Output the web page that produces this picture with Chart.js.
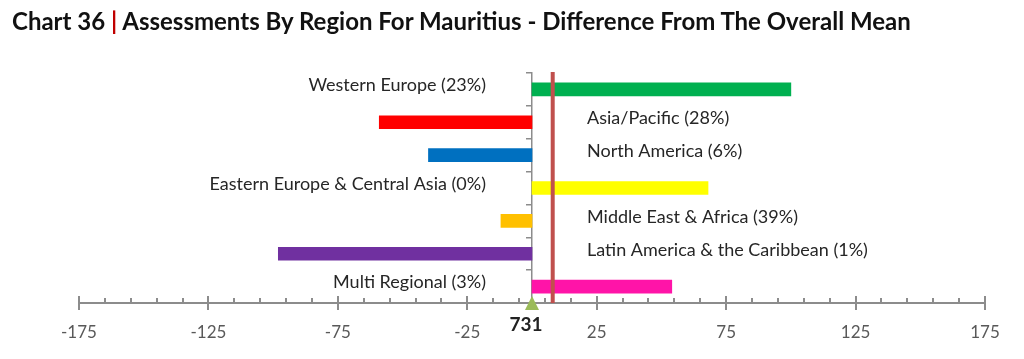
<!DOCTYPE html>
<html>
<head>
<meta charset="utf-8">
<script src="https://cdn.jsdelivr.net/npm/chart.js@4.4.0/dist/chart.umd.min.js"></script>
<style>
html, body { margin: 0; padding: 0; background: #fff; }
#wrap { position: relative; width: 1024px; height: 359px; }
#myChart { position: absolute; left: 0; top: 0; }
#title { position: absolute; left: 12px; top: 6px; font: bold 24px Lato, sans-serif; color: #111; white-space: nowrap; }
#title .sep { color: #c00000; }
</style>
</head>
<body>
<div id="wrap">
  <canvas id="myChart" width="1024" height="359"></canvas>
  <div id="title">Chart 36 <span class="sep">|</span> Assessments By Region For Mauritius - Difference From The Overall Mean</div>
</div>
<script>
// data
const regions = ['Western Europe', 'Asia/Pacific', 'North America', 'Eastern Europe & Central Asia',
                 'Middle East & Africa', 'Latin America & the Caribbean', 'Multi Regional'];
const shares = ['23%', '28%', '6%', '0%', '39%', '1%', '3%'];
const diffs = [100, -59, -40, 68, -12, -98, 54];
const barColors = ['#00b050', '#ff0000', '#0070c0', '#ffff00', '#ffc000', '#7030a0', '#ff14a8'];
const tickLabels = [-175, -125, -75, -25, 25, 75, 125, 175];
const meanLine = 8;      // red line
const overallMean = 731; // value at zero

const axisGrey = '#8c8c8c';

// axis, mean line, marker and region labels
const overlay = {
  id: 'overlay',
  afterDatasetsDraw(chart) {
    const ctx = chart.ctx;
    const area = chart.chartArea;
    const x = chart.scales.x;
    const y0 = area.bottom;
    ctx.save();

    ctx.strokeStyle = axisGrey;
    ctx.lineWidth = 2;
    ctx.beginPath();
    ctx.moveTo(x.getPixelForValue(-175), y0);
    ctx.lineTo(x.getPixelForValue(175), y0);
    ctx.stroke();
    for (let v = -175; v <= 175; v += 10) {
      const px = Math.round(x.getPixelForValue(v));
      const major = tickLabels.includes(v);
      ctx.beginPath();
      ctx.moveTo(px, y0 - (major ? 7 : 5));
      ctx.lineTo(px, y0 + (major ? 7 : 0));
      ctx.stroke();
    }

    // red line
    const mx = x.getPixelForValue(meanLine);
    ctx.strokeStyle = '#c0504d';
    ctx.lineWidth = 4;
    ctx.beginPath();
    ctx.moveTo(mx, area.top - 1);
    ctx.lineTo(mx, y0);
    ctx.stroke();

    // green marker + overall mean
    const zx = x.getPixelForValue(0);
    ctx.fillStyle = '#9bbb59';
    ctx.beginPath();
    ctx.moveTo(zx - 7, y0 + 7);
    ctx.lineTo(zx + 7, y0 + 7);
    ctx.lineTo(zx, y0 - 7);
    ctx.closePath();
    ctx.fill();
    ctx.fillStyle = '#222';
    ctx.font = 'bold 19px Lato, sans-serif';
    ctx.textAlign = 'center';
    ctx.textBaseline = 'middle';
    ctx.fillText(String(overallMean), zx - 6, y0 + 22);

    // region labels on the other side of the axis
    ctx.font = '18px Lato, sans-serif';
    ctx.fillStyle = '#262626';
    const bars = chart.getDatasetMeta(0).data;
    bars.forEach((bar, i) => {
      const txt = regions[i] + ' (' + shares[i] + ')';
      if (diffs[i] >= 0) {
        ctx.textAlign = 'right';
        ctx.fillText(txt, zx - 46, bar.y - 4);
      } else {
        ctx.textAlign = 'left';
        ctx.fillText(txt, zx + 55, bar.y - 4);
      }
    });
    ctx.restore();
  }
};

let myChart = document.getElementById('myChart').getContext('2d');
let regionChart = new Chart(myChart, {
  type: 'bar',
  data: {
    labels: regions,
    datasets: [{
      data: diffs,
      backgroundColor: barColors,
      barThickness: 13
    }]
  },
  options: {
    indexAxis: 'y',
    responsive: false,
    animation: false,
    layout: { padding: { left: 79, right: 39, top: 73, bottom: 0 } },
    plugins: {
      legend: { display: false },
      tooltip: { enabled: false }
    },
    scales: {
      x: {
        min: -175,
        max: 175,
        afterBuildTicks: axis => { axis.ticks = tickLabels.map(v => ({ value: v })); },
        afterFit: axis => { axis.height = 56; },
        grid: { display: false, drawTicks: false },
        border: { display: false },
        ticks: { color: '#595959', font: { family: 'Lato', size: 17 }, padding: 19, maxRotation: 0, autoSkip: false }
      },
      y: {
        position: { x: 0 },
        grid: { drawOnChartArea: false, drawTicks: true, tickLength: 5, color: axisGrey, lineWidth: 1.5 },
        border: { color: axisGrey, width: 1.5 },
        ticks: { display: false }
      }
    }
  },
  plugins: [overlay]
});
</script>
</body>
</html>
